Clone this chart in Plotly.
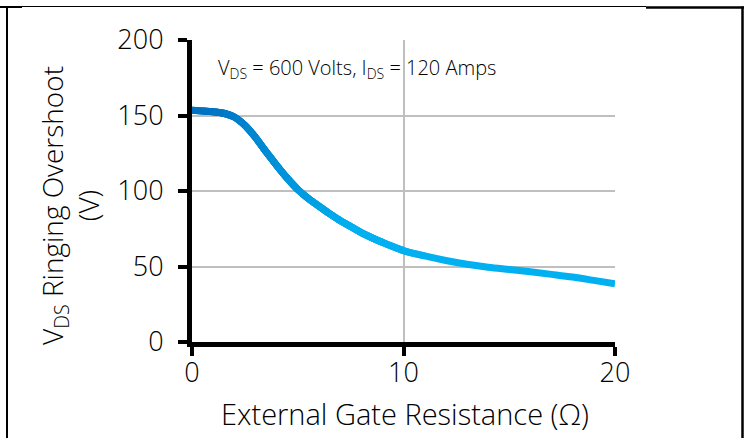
import plotly.graph_objects as go

# Data
resistance = [0, 0.5, 1, 1.5, 2, 2.5, 3, 3.5, 4, 4.5, 5, 5.5, 6, 6.5, 7, 7.5, 8,
              9, 10, 11, 12, 13, 14, 15, 16, 17, 18, 19, 20]
overshoot = [153.5, 153, 152.5, 151.5, 149, 143.5, 135.5, 126, 117, 108.5, 101, 95, 90, 85,
             80.5, 76.5, 72.5, 66, 60.5, 57, 54, 51.5, 49.5, 48, 46.5, 44.8, 43, 40.8, 38.5]
x_ticks = [0, 10, 20]
y_ticks = [0, 50, 100, 150, 200]

FONT = "Open Sans"
WGT = 350
c0 = (0, 112, 192)
c1 = (0, 176, 240)


def col(x):
    t = min(max((x - 1.0) / 7.0, 0.0), 1.0)
    r = [round(a + (b - a) * t) for a, b in zip(c0, c1)]
    return f"rgb({r[0]},{r[1]},{r[2]})"


fig = go.Figure()
# base smooth line
fig.add_trace(go.Scatter(
    x=resistance, y=overshoot, mode="lines",
    line=dict(color=col(20), width=7, shape="spline", smoothing=1),
    hoverinfo="skip", showlegend=False))
# gradient overlay: overlapping spline pieces
n = len(resistance)
for i in range(n - 1):
    if resistance[i] > 9:
        break
    a = max(i - 1, 0)
    b = min(i + 3, n)
    xm = 0.5 * (resistance[i] + resistance[i + 1])
    fig.add_trace(go.Scatter(
        x=resistance[a:b], y=overshoot[a:b], mode="lines",
        line=dict(color=col(xm), width=7, shape="spline", smoothing=1),
        hoverinfo="skip", showlegend=False))

L, R, T, B = 192, 132, 40, 96
W, H = 747, 438
PW, PH = W - L - R, H - T - B


def px(x):
    return (x - L) / PW


def py(y):
    return (H - B - y) / PH


tickfont = dict(family=FONT, size=27, color="black", weight=WGT)
axis_common = dict(
    showline=True, linecolor="black", linewidth=5,
    ticks="outside", ticklen=9, tickwidth=4, tickcolor="black",
    showgrid=True, gridcolor="#bfbfbf", gridwidth=1.5,
    zeroline=False, tickfont=tickfont,
)

fig.update_layout(
    width=W, height=H,
    margin=dict(l=L, r=R, t=T, b=B, pad=0),
    paper_bgcolor="white", plot_bgcolor="white",
    xaxis=dict(range=[0, 20], tickvals=x_ticks, ticklabelstandoff=-6, **axis_common),
    yaxis=dict(range=[0, 200], tickvals=y_ticks, ticklabelstandoff=9, **axis_common),
    showlegend=False,
)

fig.add_annotation(
    text="V<sub>DS</sub> = 600 Volts, I<sub>DS</sub> = 120 Amps",
    xref="paper", yref="paper", x=px(216), y=py(68), xanchor="left", yanchor="middle",
    showarrow=False, font=dict(family=FONT, size=20, color="black", weight=WGT))

fig.add_annotation(
    text="External Gate Resistance (Ω)",
    xref="paper", yref="paper", x=px(405), y=py(414), xanchor="center", yanchor="middle",
    showarrow=False, font=dict(family=FONT, size=29, color="black", weight=WGT))

fig.add_annotation(
    text="V<sub>DS</sub> Ringing Overshoot<br>(V)",
    xref="paper", yref="paper", x=px(70), y=py(205), xanchor="center", yanchor="middle",
    textangle=-90, showarrow=False,
    font=dict(family=FONT, size=28, color="black", weight=WGT))

# cell-like border lines
shapes = [
    dict(x0=px(7), x1=px(7), y0=py(6), y1=py(440), width=2),
    dict(x0=px(0), x1=px(22), y0=py(7), y1=py(7), width=2),
    dict(x0=px(22), x1=px(646), y0=py(6.5), y1=py(6.5), width=1),
    dict(x0=px(646), x1=px(744), y0=py(7.5), y1=py(7.5), width=2.5),
    dict(x0=px(742.5), x1=px(742.5), y0=py(6.5), y1=py(440), width=2.5),
]
for s in shapes:
    fig.add_shape(type="line", xref="paper", yref="paper",
                  x0=s["x0"], x1=s["x1"], y0=s["y0"], y1=s["y1"],
                  line=dict(color="black", width=s["width"]), layer="above")

fig.write_html("out.html")
